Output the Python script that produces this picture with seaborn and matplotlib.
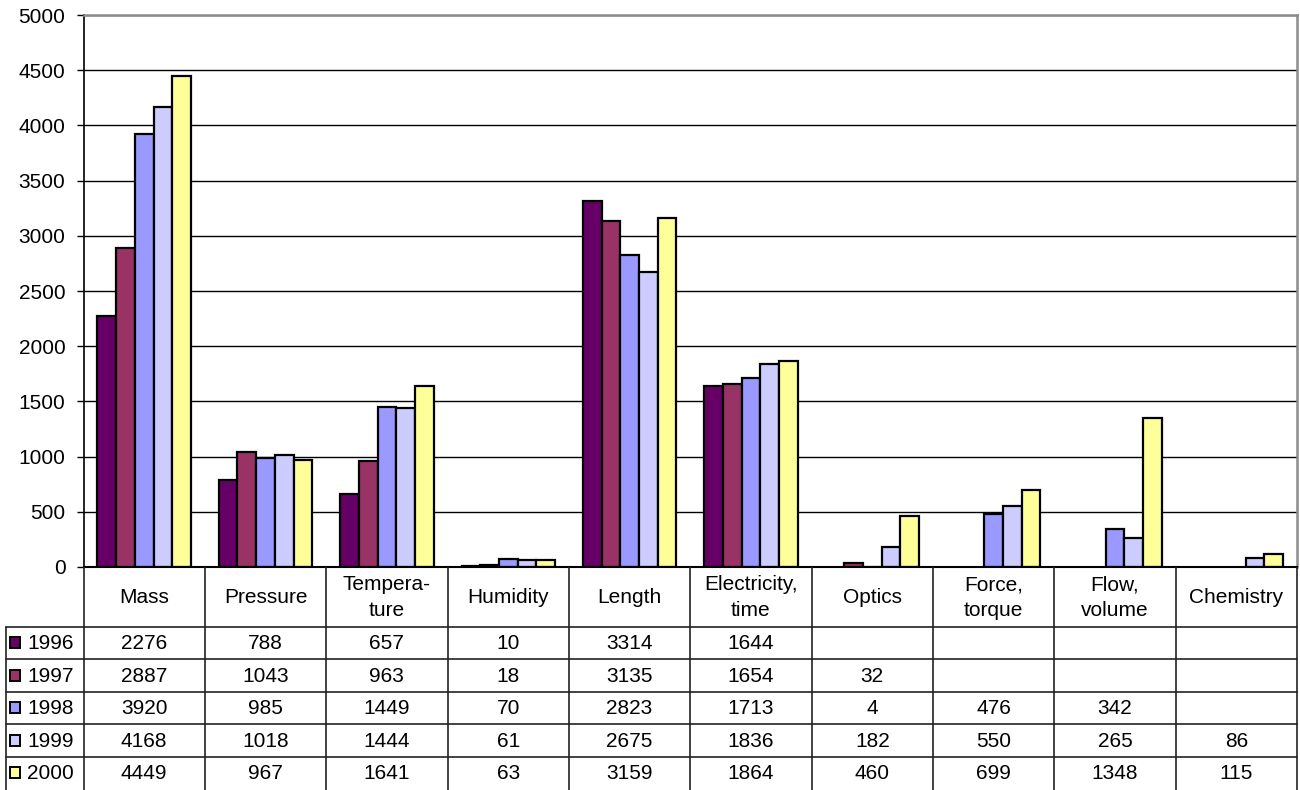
import numpy as np
import pandas as pd
import matplotlib
matplotlib.use("Agg")
import matplotlib.pyplot as plt
import seaborn as sns

# ---- data -------------------------------------------------------------
categories = ["Mass", "Pressure", "Tempera-\nture", "Humidity", "Length",
              "Electricity,\ntime", "Optics", "Force,\ntorque", "Flow,\nvolume",
              "Chemistry"]
years = ["1996", "1997", "1998", "1999", "2000"]

v1996 = [2276, 788, 657, 10, 3314, 1644, None, None, None, None]
v1997 = [2887, 1043, 963, 18, 3135, 1654, 32, None, None, None]
v1998 = [3920, 985, 1449, 70, 2823, 1713, 4, 476, 342, None]
v1999 = [4168, 1018, 1444, 61, 2675, 1836, 182, 550, 265, 86]
v2000 = [4449, 967, 1641, 63, 3159, 1864, 460, 699, 1348, 115]

colors = ["#660066", "#993366", "#9999FF", "#CCCCFF", "#FFFF99"]

series = {"1996": v1996, "1997": v1997, "1998": v1998, "1999": v1999, "2000": v2000}
rows = []
for yr, vals in series.items():
    for cat, v in zip(categories, vals):
        rows.append({"category": cat, "year": yr, "value": v})
df = pd.DataFrame(rows)
df_bars = df.dropna(subset=["value"])

# ---- figure -----------------------------------------------------------
sns.set_theme(style="white")
plt.rcParams["font.family"] = ["Liberation Sans", "DejaVu Sans"]
FS = 15

W, H = 1300, 790
fig = plt.figure(figsize=(W / 100, H / 100), dpi=100)
fig.patch.set_facecolor("white")

ax_l, ax_r, ax_t, ax_b = 83.5, 1297.0, 15.0, 567.0
ax = fig.add_axes([ax_l / W, (H - ax_b) / H, (ax_r - ax_l) / W, (ax_b - ax_t) / H])

sns.barplot(data=df_bars, x="category", y="value", hue="year",
            order=categories, hue_order=years, palette=colors,
            width=0.77, saturation=1, edgecolor="black", linewidth=1.6,
            legend=False, ax=ax, errorbar=None)

ax.set_xlim(-0.5, len(categories) - 0.5)
ax.set_ylim(0, 5000)
ax.set_yticks(np.arange(0, 5001, 500))
ax.set_xticks([])
ax.set_xlabel("")
ax.set_ylabel("")
ax.yaxis.grid(True, color="black", linewidth=1.0)
ax.set_axisbelow(True)
ax.tick_params(axis="y", length=5, width=1, color="black", pad=8,
               labelsize=FS, left=True)
for lbl in ax.get_yticklabels():
    lbl.set_color("black")
for side in ("top", "right"):
    ax.spines[side].set_color("#8c8c8c")
    ax.spines[side].set_linewidth(1.8)
ax.spines["left"].set_color("black")
ax.spines["left"].set_linewidth(1.2)
ax.spines["bottom"].set_color("black")
ax.spines["bottom"].set_linewidth(1.5)

# ---- data table under the plot ---------------------------------------
table_h = H - ax_b
tax = fig.add_axes([ax_l / W, 0, (ax_r - ax_l) / W, table_h / H])
tax.set_xlim(-0.5, len(categories) - 0.5)
tax.set_ylim(table_h, 0)
tax.axis("off")

px_per_cat = (ax_r - ax_l) / len(categories)
x_left = -0.5 - (ax_l - 6.0) / px_per_cat
header_h = 59.5
row_h = 32.5
row_edges = [header_h + row_h * i for i in range(len(years) + 1)]

lc = "#222222"
lw = 1.2
# vertical column separators
for k in range(len(categories) + 1):
    tax.plot([-0.5 + k, -0.5 + k], [0, table_h], color=lc, lw=lw,
             clip_on=False, solid_capstyle="butt")
# row-label column left border
tax.plot([x_left, x_left], [header_h, table_h], color=lc, lw=lw, clip_on=False)
# horizontal row separators
for y in row_edges[:-1]:
    tax.plot([x_left, len(categories) - 0.5], [y, y], color=lc, lw=lw, clip_on=False)

# header labels
for i, cat in enumerate(categories):
    tax.text(i, header_h / 2 + 1, cat, ha="center", va="center", fontsize=FS,
             linespacing=1.45, color="black")

# row labels with legend keys and values
sq = 11 / px_per_cat
for r, (yr, vals) in enumerate(series.items()):
    yc = row_edges[r] + row_h / 2
    x0 = x_left + 3.5 / px_per_cat
    tax.add_patch(plt.Rectangle((x0, yc - 5.5), sq, 11, facecolor=colors[r],
                                edgecolor="black", linewidth=1.4, clip_on=False))
    tax.text(x_left + 21 / px_per_cat, yc + 1, yr, ha="left", va="center",
             fontsize=FS, color="black")
    for i, v in enumerate(vals):
        if v is not None:
            tax.text(i, yc + 1, f"{v:g}", ha="center", va="center",
                     fontsize=FS, color="black")

fig.savefig("out.png", dpi=100, facecolor="white")
